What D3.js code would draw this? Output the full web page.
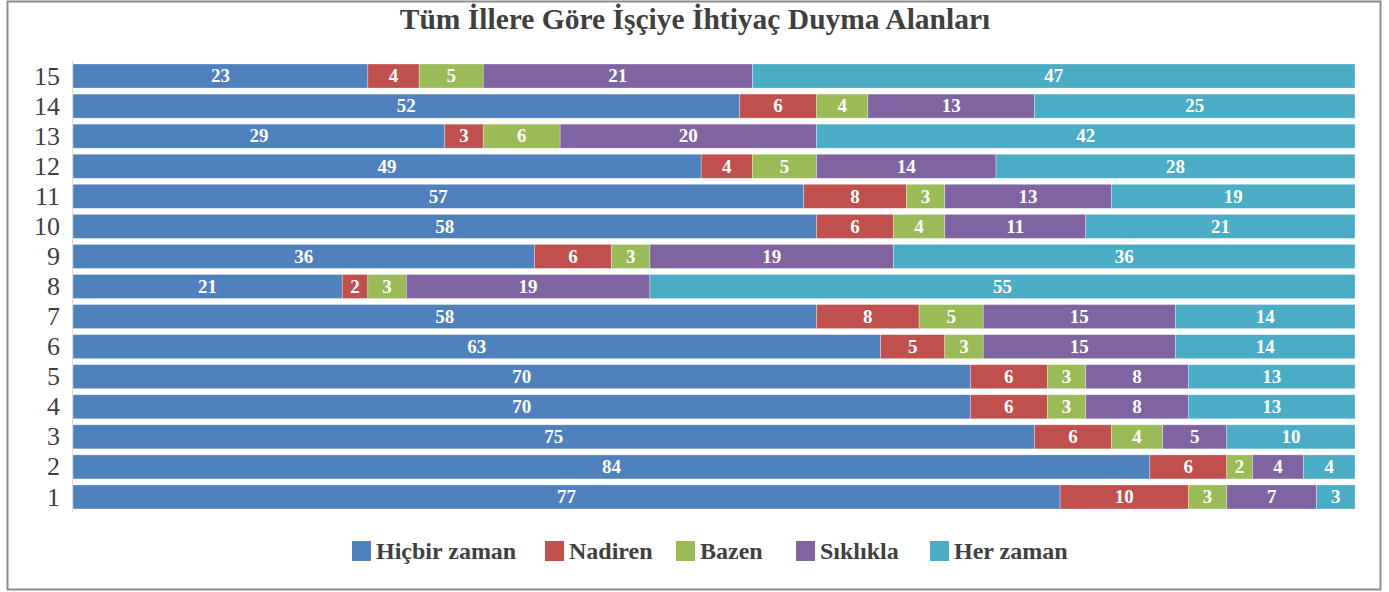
<!DOCTYPE html>
<html>
<head>
<meta charset="utf-8">
<script src="https://cdn.jsdelivr.net/npm/d3@7"></script>
<style>
  html, body { margin: 0; padding: 0; background: #fff; }
  svg { display: block; }
  svg text { font-family: "Liberation Serif", "Times New Roman", "DejaVu Serif", serif; }
  .seg-label { fill: #fff; font-weight: bold; font-size: 19px; }
  .axis-label { fill: #404040; font-size: 26px; }
  .legend-text { fill: #404040; font-weight: bold; font-size: 24px; }
</style>
</head>
<body>
<svg id="chart"></svg>
<script>
const SVG_W = 1389;
const SVG_H = 592;

const title = 'Tüm İllere Göre İşçiye İhtiyaç Duyma Alanları';

const categories = ['15', '14', '13', '12', '11', '10', '9', '8', '7', '6', '5', '4', '3', '2', '1'];
const seriesNames = ['Hiçbir zaman', 'Nadiren', 'Bazen', 'Sıklıkla', 'Her zaman'];
const colors = ['#4F81BD', '#C0504D', '#9BBB59', '#8064A2', '#4BACC6'];

const hicbir   = [23, 52, 29, 49, 57, 58, 36, 21, 58, 63, 70, 70, 75, 84, 77];
const nadiren  = [ 4,  6,  3,  4,  8,  6,  6,  2,  8,  5,  6,  6,  6,  6, 10];
const bazen    = [ 5,  4,  6,  5,  3,  4,  3,  3,  5,  3,  3,  3,  4,  2,  3];
const siklikla = [21, 13, 20, 14, 13, 11, 19, 19, 15, 15,  8,  8,  5,  4,  7];
const herZaman = [47, 25, 42, 28, 19, 21, 36, 55, 14, 14, 13, 13, 10,  4,  3];

const seriesValues = [hicbir, nadiren, bazen, siklikla, herZaman];

const rows = categories.map((c, i) => {
  const r = { cat: c };
  seriesNames.forEach((s, j) => { r[s] = seriesValues[j][i]; });
  return r;
});

const PLOT = { left: 73, right: 1355, top: 61, bottom: 512 };

const xScale = d3.scaleLinear().domain([0, 100]).range([PLOT.left, PLOT.right]);
const yScale = d3.scaleBand().domain(categories).range([PLOT.top, PLOT.bottom]).paddingInner(0.2).paddingOuter(0.1);

const svg = d3.select('#chart')
  .attr('width', SVG_W)
  .attr('height', SVG_H);

// outer frame
svg.append('rect')
  .attr('x', 7.5).attr('y', 1.5)
  .attr('width', 1373).attr('height', 588)
  .attr('fill', '#fff')
  .attr('stroke', '#8c8c8c')
  .attr('stroke-width', 2);

svg.append('text')
  .attr('x', 695).attr('y', 29)
  .attr('text-anchor', 'middle')
  .attr('font-size', 29.5)
  .attr('font-weight', 'bold')
  .attr('fill', '#404040')
  .text(title);

// faint vertical axis line
svg.append('line')
  .attr('x1', PLOT.left - 0.5).attr('x2', PLOT.left - 0.5)
  .attr('y1', PLOT.top).attr('y2', PLOT.bottom)
  .attr('stroke', '#d9d9d9').attr('stroke-width', 1);

const stacked = d3.stack().keys(seriesNames)(rows);

const layers = svg.append('g').selectAll('g.layer')
  .data(stacked)
  .join('g')
  .attr('class', 'layer')
  .attr('fill', (d, i) => colors[i]);

layers.selectAll('rect')
  .data(d => d)
  .join('rect')
  .attr('x', d => xScale(d[0]))
  .attr('y', d => yScale(d.data.cat))
  .attr('width', d => xScale(d[1]) - xScale(d[0]))
  .attr('height', yScale.bandwidth())
  .attr('stroke', 'rgba(255,255,255,0.5)')
  .attr('stroke-width', 0.6);

layers.selectAll('text')
  .data(d => d)
  .join('text')
  .attr('class', 'seg-label')
  .attr('x', d => (xScale(d[0]) + xScale(d[1])) / 2)
  .attr('y', d => yScale(d.data.cat) + yScale.bandwidth() / 2)
  .attr('dy', '0.33em')
  .attr('text-anchor', 'middle')
  .text(d => d[1] - d[0]);

// category labels
svg.append('g').selectAll('text')
  .data(categories)
  .join('text')
  .attr('class', 'axis-label')
  .attr('x', 60)
  .attr('y', d => yScale(d) + yScale.bandwidth() / 2)
  .attr('dy', '0.33em')
  .attr('text-anchor', 'end')
  .text(d => d);

// legend
const legend = svg.append('g').attr('transform', 'translate(0,551)');
const legendStarts = [352, 545, 676, 796, 930];
const items = legend.selectAll('g')
  .data(seriesNames)
  .join('g')
  .attr('transform', (d, i) => `translate(${legendStarts[i]},0)`);

items.append('rect')
  .attr('x', 0).attr('y', -10)
  .attr('width', 19).attr('height', 20)
  .attr('fill', (d, i) => colors[i]);

items.append('text')
  .attr('class', 'legend-text')
  .attr('x', 24).attr('y', 0)
  .attr('dy', '0.33em')
  .text(d => d);
</script>
</body>
</html>
